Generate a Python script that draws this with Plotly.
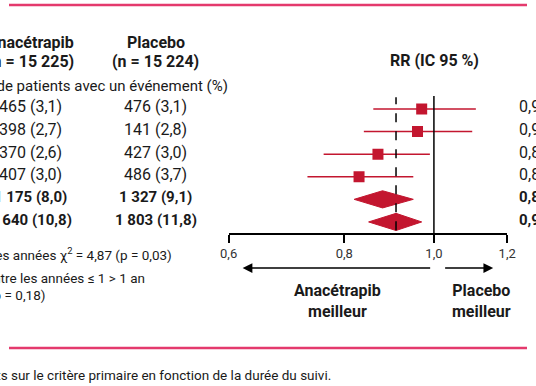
import plotly.graph_objects as go

# ---- data ----
anacetrapib_n = ["465 (3,1)", "398 (2,7)", "370 (2,6)", "407 (3,0)", "1 175 (8,0)", "1 640 (10,8)"]
placebo_n = ["476 (3,1)", "141 (2,8)", "427 (3,0)", "486 (3,7)", "1 327 (9,1)", "1 803 (11,8)"]
rr = [0.97, 0.96, 0.87, 0.83, 0.88, 0.91]
rr_lo = [0.86, 0.84, 0.76, 0.73, 0.82, 0.85]
rr_hi = [1.11, 1.10, 0.99, 0.95, 0.95, 0.97]
is_summary = [False, False, False, False, True, True]
tick_vals = [0.6, 0.8, 1.0, 1.2]
tick_text = ["0,6", "0,8", "1,0", "1,2"]

RED = "#c3162f"
PINK = "#e43a6d"
INK = "#1a1a1a"
FONT = "Roboto"
W, H = 536, 386
# horizontal placement correction measured on the rendered page
OX, SX = 8, 0.968
rows = list(range(len(rr)))


def gx(x):
    return (x - OX) / SX


def px(x):
    return gx(x) / W


def py(y):
    return 1 - y / H


def fr(v):
    return f"{v:.2f}".replace(".", ",")


def bold(s, b=True):
    return f"<b>{s}</b>" if b else s


fig = go.Figure()

for i in rows:
    if not is_summary[i]:
        fig.add_trace(go.Scatter(x=[rr_lo[i], rr_hi[i]], y=[i, i], mode="lines",
                                 line=dict(color=RED, width=1.5), hoverinfo="skip"))
sq = [i for i in rows if not is_summary[i]]
fig.add_trace(go.Scatter(x=[rr[i] for i in sq], y=sq, mode="markers",
                         marker=dict(symbol="square", size=11, color=RED), hoverinfo="skip"))
hh = 0.38
for i in rows:
    if is_summary[i]:
        fig.add_trace(go.Scatter(x=[rr_lo[i], rr[i], rr_hi[i], rr[i], rr_lo[i]],
                                 y=[i, i - hh, i, i + hh, i], mode="lines", fill="toself",
                                 fillcolor=RED, line=dict(color=RED, width=1), hoverinfo="skip"))

fig.add_shape(type="line", x0=1, x1=1, xref="x", y0=0, y1=1, yref="y domain",
              line=dict(color="black", width=1.5))
fig.add_shape(type="line", x0=rr[-1], x1=rr[-1], xref="x", y0=0.02, y1=0.99, yref="y domain",
              line=dict(color="black", width=1.5, dash="dash"))

for yy in [5, 348]:
    fig.add_shape(type="line", x0=0, x1=1, xref="paper", y0=py(yy), y1=py(yy), yref="paper",
                  line=dict(color=PINK, width=2.5))

ann = []
hdr = dict(family=FONT, size=16, color=INK)
ann.append(dict(x=px(30), y=py(43), text="<b>Anacétrapib</b>", xanchor="center", font=hdr))
ann.append(dict(x=px(30), y=py(61), text="<b>(n = 15 225)</b>", xanchor="center", font=hdr))
ann.append(dict(x=px(155), y=py(43), text="<b>Placebo</b>", xanchor="center", font=hdr))
ann.append(dict(x=px(155), y=py(61), text="<b>(n = 15 224)</b>", xanchor="center", font=hdr))
ann.append(dict(x=px(434), y=py(60), text="<b>RR (IC 95 %)</b>", xanchor="center", font=hdr))
ann.append(dict(x=px(229), y=py(86), text="Nombre de patients avec un événement (%)", xanchor="right",
                font=dict(family=FONT, size=15, color=INK)))

for i in rows:
    b = is_summary[i]
    rf = dict(family=FONT, size=15 if b else 16, color=INK)
    ann.append(dict(x=px(30), y=i, yref="y", yshift=2, text=bold(anacetrapib_n[i], b), xanchor="center", font=rf))
    ann.append(dict(x=px(155), y=i, yref="y", yshift=2, text=bold(placebo_n[i], b), xanchor="center", font=rf))
    ann.append(dict(x=px(517), y=i, yref="y", yshift=2,
                    text=bold(f"{fr(rr[i])} ({fr(rr_lo[i])}–{fr(rr_hi[i])})", b), xanchor="left", font=rf))

small = dict(family=FONT, size=13.5, color=INK)
ann.append(dict(x=px(173), y=py(254), text="Hétérogénéité entre les années χ<sup>2</sup> = 4,87 (p = 0,03)",
                xanchor="right", font=small))
ann.append(dict(x=px(146), y=py(278), text="Tendance entre les années ≤ 1 > 1 an", xanchor="right", font=small))
ann.append(dict(x=px(46), y=py(295), text="(p = 0,18)", xanchor="right", font=small))
ann.append(dict(x=px(333), y=py(375), text="Figure. Effets sur le critère primaire en fonction de la durée du suivi.",
                xanchor="right", font=small))

ann.append(dict(x=px(242), y=py(268), ax=(425 - 242) / SX, ay=0, text="", showarrow=True,
                arrowhead=2, arrowsize=1.3, arrowwidth=1.5, arrowcolor="black"))
ann.append(dict(x=px(493), y=py(268), ax=(445 - 493) / SX, ay=0, text="", showarrow=True,
                arrowhead=2, arrowsize=1.3, arrowwidth=1.5, arrowcolor="black"))
ann.append(dict(x=px(337), y=py(301), text="<b>Anacétrapib<br>meilleur</b>", xanchor="center", font=hdr))
ann.append(dict(x=px(481), y=py(301), text="<b>Placebo<br>meilleur</b>", xanchor="center", font=hdr))

for a in ann:
    a.setdefault("xref", "paper")
    a.setdefault("yref", "paper")
    a.setdefault("showarrow", False)
    a.setdefault("yanchor", "middle")
    fig.add_annotation(**a)

fig.update_layout(
    width=W, height=H, margin=dict(l=0, r=0, t=0, b=0),
    paper_bgcolor="white", plot_bgcolor="white", showlegend=False,
    font=dict(family=FONT, size=15, color=INK),
    xaxis=dict(type="log", range=[-0.2218487, 0.0791812], domain=[px(228), px(507)],
               tickvals=tick_vals, ticktext=tick_text, ticks="outside", ticklen=8,
               tickwidth=1.5, tickcolor="black", showline=True, linecolor="black", linewidth=1.5,
               showgrid=False, zeroline=False, tickfont=dict(family=FONT, size=13, color="#333")),
    yaxis=dict(range=[5.49, -0.575], domain=[py(233), py(96)], visible=False,
               showgrid=False, zeroline=False),
)

fig.write_html("out.html", config={"displayModeBar": False, "responsive": False},
               post_script="document.body.style.margin='0';document.body.style.overflow='hidden';")
